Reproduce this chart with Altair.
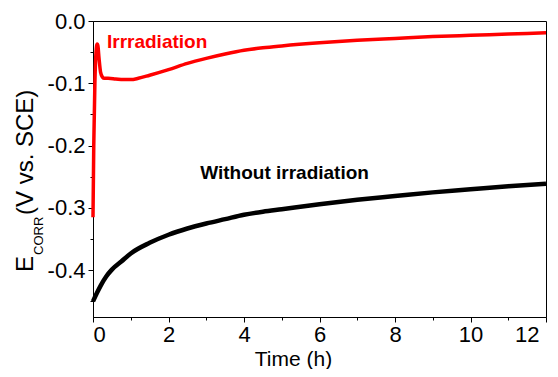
import altair as alt
import pandas as pd

# Irradiated sample
red_t = [0, 0.02, 0.05, 0.08, 0.11, 0.13, 0.16, 0.2, 0.25, 0.3, 0.4, 0.6, 0.8, 1.0,
         1.2, 1.5, 2.0, 2.5, 3.0, 3.5, 4.0, 4.5, 5, 6, 7, 8, 9, 10, 11, 12]
red_v = [-0.315, -0.2, -0.1, -0.05, -0.037, -0.04, -0.06, -0.082, -0.09, -0.092,
         -0.092, -0.093, -0.094, -0.094, -0.092, -0.087, -0.078, -0.068, -0.060,
         -0.053, -0.047, -0.043, -0.040, -0.035, -0.031, -0.028, -0.025, -0.023,
         -0.021, -0.019]

# Without irradiation
black_t = [0, 0.1, 0.2, 0.35, 0.5, 0.75, 1, 1.5, 2, 2.5, 3, 3.5, 4, 4.5, 5, 6, 7, 8,
           9, 10, 11, 12]
black_v = [-0.45, -0.437, -0.425, -0.41, -0.399, -0.386, -0.373, -0.356, -0.343,
           -0.333, -0.325, -0.318, -0.311, -0.306, -0.302, -0.294, -0.287, -0.281,
           -0.275, -0.270, -0.265, -0.261]

x_major = [0, 2, 4, 6, 8, 10, 12]
x_minor = [1, 3, 5, 7, 9, 11]
y_major = [0, -0.1, -0.2, -0.3, -0.4]
y_major_labels = ["0.0", "-0.1", "-0.2", "-0.3", "-0.4"]
y_minor = [-0.05, -0.15, -0.25, -0.35, -0.45]

label_text = ["Irrradiation", "Without irradiation"]
label_t = [0.37, 2.84]
label_v = [-0.043, -0.254]
label_color = ["#ff0000", "#000000"]

FONT = "Liberation Sans"

red_df = pd.DataFrame({"t": red_t, "v": red_v})
black_df = pd.DataFrame({"t": black_t, "v": black_v})
lab_df = pd.DataFrame({"t": label_t, "v": label_v, "text": label_text, "c": label_color})

xs = alt.Scale(domain=[0, 12], nice=False, zero=False)
ys = alt.Scale(domain=[-0.475, 0], nice=False, zero=False)

x_major_js = "[" + ",".join(str(v) for v in x_major) + "]"
y_major_js = "[" + ",".join(str(v) for v in y_major) + "]"
y_label_expr = "".join(
    f"datum.value == {v} ? '{s}' : " for v, s in zip(y_major, y_major_labels)
) + "''"

x_axis = alt.Axis(
    values=sorted(x_major + x_minor),
    labelExpr=f"indexof({x_major_js}, datum.value) >= 0 ? datum.label : ''",
    tickSize={"condition": {"test": f"indexof({x_major_js}, datum.value) >= 0", "value": 5}, "value": 3},
    labelOffset={"condition": {"test": f"datum.value == {x_major[-1]}", "value": -7}, "value": 0},
    labelOverlap=False,
    labelPadding=2,
    title="Time (h)", titleX=200, titleY=48, titleAlign="center",
    titleBaseline="alphabetic", titleFontSize=21,
)
y_axis = alt.Axis(
    values=sorted(y_major + y_minor),
    labelExpr=y_label_expr,
    tickSize={"condition": {"test": f"indexof({y_major_js}, datum.value) >= 0", "value": 5}, "value": 3},
    labelOverlap=False,
    title=None,
)

black = alt.Chart(black_df).mark_line(
    color="#000000", strokeWidth=4.5, interpolate="monotone"
).encode(
    x=alt.X("t:Q", scale=xs, axis=x_axis),
    y=alt.Y("v:Q", scale=ys, axis=y_axis),
)
red = alt.Chart(red_df).mark_line(
    color="#ff0000", strokeWidth=3.5, interpolate="monotone"
).encode(
    x=alt.X("t:Q", scale=xs, axis=x_axis),
    y=alt.Y("v:Q", scale=ys, axis=y_axis),
)
labels = alt.Chart(lab_df).mark_text(
    align="left", baseline="alphabetic", font=FONT, fontSize=19, fontWeight="bold"
).encode(
    x=alt.X("t:Q", scale=xs, axis=x_axis),
    y=alt.Y("v:Q", scale=ys, axis=y_axis),
    text="text:N",
    color=alt.Color("c:N", scale=None),
)

one = pd.DataFrame({"a": [0]})
e_txt = alt.Chart(one).mark_text(
    angle=270, align="left", baseline="alphabetic", font=FONT, fontSize=24, color="black"
).encode(x=alt.value(-60), y=alt.value(251), text=alt.value("E"))
sub_txt = alt.Chart(one).mark_text(
    angle=270, align="left", baseline="alphabetic", font=FONT, fontSize=13, color="black"
).encode(x=alt.value(-50), y=alt.value(234), text=alt.value("CORR"))
rest_txt = alt.Chart(one).mark_text(
    angle=270, align="left", baseline="alphabetic", font=FONT, fontSize=24, color="black"
).encode(x=alt.value(-60), y=alt.value(194), text=alt.value("(V  vs.  SCE)"))

chart = alt.layer(black, red, labels, e_txt, sub_txt, rest_txt).properties(
    width=453, height=296,
    autosize=alt.AutoSizeParams(type="none"),
    padding={"left": 85, "top": 13, "right": 4, "bottom": 52},
).configure_view(
    stroke="black", strokeWidth=1
).configure_axis(
    grid=False, domainColor="black", tickColor="black", labelColor="black",
    titleColor="black", labelFont=FONT, titleFont=FONT, labelFontSize=22,
    titleFontSize=22, titleFontWeight="normal", domainWidth=1, tickWidth=1,
    labelPadding=3,
)

chart.save("out.html", embed_options={"renderer": "svg", "actions": False})
